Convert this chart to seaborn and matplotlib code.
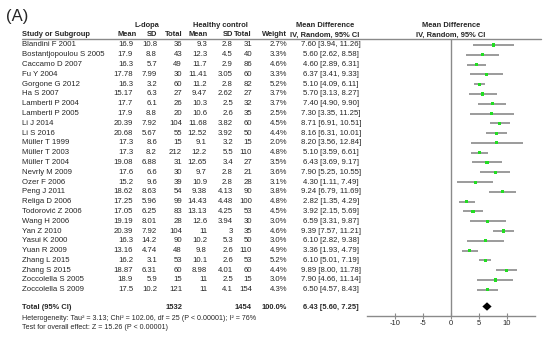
import matplotlib
matplotlib.use("Agg")
import matplotlib.pyplot as plt
from matplotlib.lines import Line2D
import seaborn as sns
import pandas as pd

studies = ["Blandini F 2001", "Bostantjopoulou S 2005", "Caccamo D 2007", "Fu Y 2004",
           "Gorgone G 2012", "Ha S 2007", "Lamberti P 2004", "Lamberti P 2005", "Li J 2014",
           "Li S 2016", "Müller T 1999", "Müller T 2003", "Müller T 2004", "Nevrly M 2009",
           "Ozer F 2006", "Peng J 2011", "Religa D 2006", "Todorović Z 2006", "Wang H 2006",
           "Yan Z 2010", "Yasui K 2000", "Yuan R 2009", "Zhang L 2015", "Zhang S 2015",
           "Zoccolella S 2005", "Zoccolella S 2009"]
ld_mean = [16.9, 17.9, 16.3, 17.78, 16.3, 15.17, 17.7, 17.9, 20.39, 20.68, 17.3, 17.3, 19.08,
           17.6, 15.2, 18.62, 17.25, 17.05, 19.19, 20.39, 16.3, 13.16, 16.2, 18.87, 18.9, 17.5]
ld_sd = [10.8, 8.8, 5.7, 7.99, 3.2, 6.3, 6.1, 8.8, 7.92, 5.67, 8.6, 8.2, 6.88, 6.6, 9.6, 8.63,
         5.96, 6.25, 8.01, 7.92, 14.2, 4.74, 3.1, 6.31, 5.9, 10.2]
ld_n = [36, 43, 49, 30, 60, 27, 26, 20, 104, 55, 15, 212, 31, 30, 39, 54, 99, 83, 28, 104, 90,
        48, 53, 60, 15, 121]
hc_mean = [9.3, 12.3, 11.7, 11.41, 11.2, 9.47, 10.3, 10.6, 11.68, 12.52, 9.1, 12.2, 12.65, 9.7,
           10.9, 9.38, 14.43, 13.13, 12.6, 11, 10.2, 9.8, 10.1, 8.98, 11, 11]
hc_sd = [2.8, 4.5, 2.9, 3.05, 2.8, 2.62, 2.5, 2.6, 3.82, 3.92, 3.2, 5.5, 3.4, 2.8, 2.8, 4.13,
         4.48, 4.25, 3.94, 3, 5.3, 2.6, 2.6, 4.01, 2.5, 4.1]
hc_n = [31, 40, 86, 60, 82, 27, 32, 35, 60, 50, 15, 110, 27, 21, 28, 90, 100, 53, 30, 35, 50,
        110, 53, 60, 15, 154]
weight = [2.7, 3.3, 4.6, 3.3, 5.2, 3.7, 3.7, 2.5, 4.5, 4.4, 2.0, 4.8, 3.5, 3.6, 3.1, 3.8, 4.8,
          4.5, 3.0, 4.6, 3.0, 4.9, 5.2, 4.4, 3.0, 4.3]
md = [7.60, 5.60, 4.60, 6.37, 5.10, 5.70, 7.40, 7.30, 8.71, 8.16, 8.20, 5.10, 6.43, 7.90, 4.30,
      9.24, 2.82, 3.92, 6.59, 9.39, 6.10, 3.36, 6.10, 9.89, 7.90, 6.50]
ci_lo = [3.94, 2.62, 2.89, 3.41, 4.09, 3.13, 4.90, 3.35, 6.91, 6.31, 3.56, 3.59, 3.69, 5.25, 1.11,
         6.79, 1.35, 2.15, 3.31, 7.57, 2.82, 1.93, 5.01, 8.00, 4.66, 4.57]
ci_hi = [11.26, 8.58, 6.31, 9.33, 6.11, 8.27, 9.90, 11.25, 10.51, 10.01, 12.84, 6.61, 9.17, 10.55,
         7.49, 11.69, 4.29, 5.69, 9.87, 11.21, 9.38, 4.79, 7.19, 11.78, 11.14, 8.43]
total_ld_n = 1532
total_hc_n = 1454
total_weight = 100.0
total_md, total_lo, total_hi = 6.43, 5.60, 7.25
heterogeneity = "Heterogeneity: Tau² = 3.13; Chi² = 102.06, df = 25 (P < 0.00001); I² = 76%"
overall = "Test for overall effect: Z = 15.26 (P < 0.00001)"
xticks = [-10, -5, 0, 5, 10]

sns.set_theme(style="white")
plt.rcParams["font.family"] = ["Liberation Sans", "DejaVu Sans"]
plt.rcParams["axes.unicode_minus"] = False

W, H = 550, 339
fig = plt.figure(figsize=(5.5, 3.39), dpi=100)
TXT = "#262626"
GRAY = "#8a8a8a"
FS = 5.6

ROW0, DY = 45.0, 9.79
TOT_Y = 306.5


def fx(x):
    return x / W


def fy(y):
    return 1 - y / H


def txt(x, y, s, ha="left", bold=False, size=FS):
    fig.text(fx(x), fy(y), s, ha=ha, va="center", fontsize=size, color=TXT,
             fontweight="bold" if bold else "normal")


def fmt(v):
    return f"{v:g}"


# panel label
txt(6, 17, "(A)", size=12)

# group headers
txt(147, 25.5, "L-dopa", ha="center", bold=True, size=5.4)
txt(220, 25.5, "Healthy control", ha="center", bold=True, size=5.4)
txt(325, 25.5, "Mean Difference", ha="center", bold=True, size=5.4)
txt(451, 25.5, "Mean Difference", ha="center", bold=True, size=5.4)
# column headers
txt(22, 35, "Study or Subgroup", bold=True, size=5.4)
txt(137, 35, "Mean", ha="right", bold=True, size=5.4)
txt(157, 35, "SD", ha="right", bold=True, size=5.4)
txt(183, 35, "Total", ha="right", bold=True, size=5.4)
txt(208, 35, "Mean", ha="right", bold=True, size=5.4)
txt(233, 35, "SD", ha="right", bold=True, size=5.4)
txt(252, 35, "Total", ha="right", bold=True, size=5.4)
txt(287, 35, "Weight", ha="right", bold=True, size=5.4)
txt(325, 35, "IV, Random, 95% CI", ha="center", bold=True, size=5.4)
txt(451, 35, "IV, Random, 95% CI", ha="center", bold=True, size=5.4)

fig.add_artist(Line2D([fx(22), fx(541)], [fy(39), fy(39)], color=GRAY, lw=1.0,
                      transform=fig.transFigure))

for i, name in enumerate(studies):
    y = ROW0 + DY * i
    txt(22, y, name)
    txt(133, y, fmt(ld_mean[i]), ha="right")
    txt(157, y, fmt(ld_sd[i]), ha="right")
    txt(182, y, str(ld_n[i]), ha="right")
    txt(207, y, fmt(hc_mean[i]), ha="right")
    txt(233, y, fmt(hc_sd[i]), ha="right")
    txt(252, y, str(hc_n[i]), ha="right")
    txt(287, y, f"{weight[i]:.1f}%", ha="right")
    txt(331, y, f"{md[i]:.2f} [{ci_lo[i]:.2f}, {ci_hi[i]:.2f}]", ha="center")

txt(22, TOT_Y + 1, "Total (95% CI)", bold=True, size=5.4)
txt(183, TOT_Y + 1, str(total_ld_n), ha="right", bold=True, size=5.4)
txt(252, TOT_Y + 1, str(total_hc_n), ha="right", bold=True, size=5.4)
txt(287, TOT_Y + 1, f"{total_weight:.1f}%", ha="right", bold=True, size=5.4)
txt(331, TOT_Y + 1, f"{total_md:.2f} [{total_lo:.2f}, {total_hi:.2f}]", ha="center",
    bold=True, size=5.4)
txt(22, 318.7, heterogeneity, size=5.1)
txt(22, 327.7, overall, size=5.1)

# forest axes
ax_l, ax_r, ax_t, ax_b = 367, 535, 39, 315.7
ax = fig.add_axes([fx(ax_l), fy(ax_b), (ax_r - ax_l) / W, (ax_b - ax_t) / H])
ax.set_facecolor("none")
ax.set_xlim(-15, 15)
ax.set_ylim((ax_b - ROW0) / DY, (ax_t - ROW0) / DY)

df = pd.DataFrame({"study": studies, "md": md, "lo": ci_lo, "hi": ci_hi,
                   "row": list(range(len(studies)))})
ax.axvline(0, color=GRAY, lw=1.0, zorder=1)
ax.hlines(df["row"], df["lo"], df["hi"], color=GRAY, lw=1.2, zorder=2)
sns.scatterplot(data=df, x="md", y="row", marker="s", color="#22dd22", s=5,
                edgecolor="none", linewidth=0, ax=ax, zorder=3, legend=False)

ty = (TOT_Y - ROW0) / DY
h = 4.2 / DY
ax.fill([total_lo, total_md, total_hi, total_md], [ty, ty - h, ty, ty + h],
        color="black", zorder=4, lw=0)

for s in ["top", "left", "right"]:
    ax.spines[s].set_visible(False)
ax.spines["bottom"].set_color(GRAY)
ax.spines["bottom"].set_linewidth(1.0)
ax.set_xticks(xticks)
ax.set_xticklabels([str(t) for t in xticks])
ax.set_yticks([])
ax.tick_params(axis="x", direction="inout", length=4, width=0.8, color=GRAY,
               labelsize=5.5, labelcolor=TXT, pad=1, bottom=True)
ax.set_xlabel("")
ax.set_ylabel("")

fig.savefig("out.png", dpi=100)
